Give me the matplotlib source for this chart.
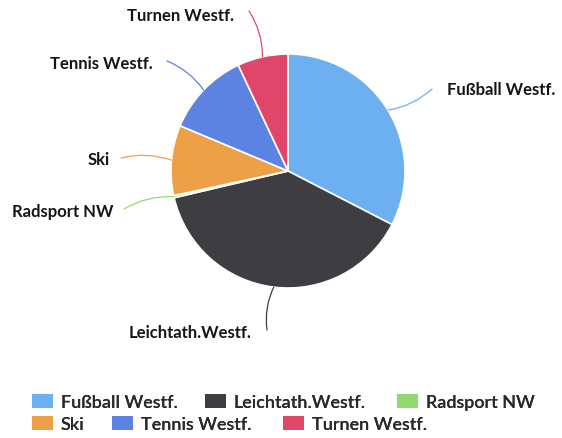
import numpy as np
import matplotlib
matplotlib.use("Agg")
import matplotlib.pyplot as plt
from matplotlib.patches import Patch

labels = ['Fußball Westf.', 'Leichtath.Westf.', 'Radsport NW', 'Ski', 'Tennis Westf.', 'Turnen Westf.']
shares = [32.6, 38.8, 0.3, 9.7, 11.7, 7.0]
colors = ['#6cb0f2', '#3d3d42', '#94d872', '#eea046', '#5c83e2', '#e0466a']

plt.rcParams['font.family'] = ['Lato', 'DejaVu Sans']

W, H = 562, 439
fig = plt.figure(figsize=(W / 100, H / 100), dpi=100)
fig.patch.set_facecolor('white')

# pie centre and radius in pixels (from the top left)
cx, cy, r = 288, 172, 117
ax = fig.add_axes([(cx - r) / W, (H - cy - r) / H, 2 * r / W, 2 * r / H])

wedges, _ = ax.pie(shares, colors=colors, startangle=90, counterclock=False,
                   wedgeprops=dict(edgecolor='white', linewidth=1.2))
ax.set_xlim(-1, 1)
ax.set_ylim(-1, 1)
ax.set_aspect('equal')
ax.axis('off')


def px(x, y):
    return (x - cx) / r, (cy - y) / r


# label text anchor (right/left edge) and connector end, in pixels
label_pos = {
    'Fußball Westf.': ((447, 90), (432, 90), 'left'),
    'Leichtath.Westf.': ((252, 333), (267, 331), 'right'),
    'Radsport NW': ((113, 212), (124, 210), 'right'),
    'Ski': ((110, 160), (121, 159), 'right'),
    'Tennis Westf.': ((153, 64), (167, 62), 'right'),
    'Turnen Westf.': ((234, 16), (249, 12), 'right'),
}

for w, lab, col in zip(wedges, labels, colors):
    mid = np.deg2rad((w.theta1 + w.theta2) / 2)
    start = (1.0 * np.cos(mid), 1.0 * np.sin(mid))
    (tx, ty), (ex, ey), ha = label_pos[lab]
    ax.annotate('', xy=start, xytext=px(ex, ey),
                arrowprops=dict(arrowstyle='-', color=col, lw=0.9,
                                shrinkA=0, shrinkB=0,
                                connectionstyle='arc3,rad=-0.15'),
                annotation_clip=False)
    ax.text(*px(tx, ty), lab, ha=ha, va='center', fontsize=12,
            fontweight='bold', color='#151515', clip_on=False)

# legend: one entry per item, placed where the reference flows them
legend_xy = [(32, 403), (205, 403), (397, 403), (32, 425), (112, 425), (283, 425)]
for c, lab, (lx, ly) in zip(colors, labels, legend_xy):
    leg = fig.legend([Patch(facecolor=c, edgecolor='none')], [lab],
                     loc='center left', bbox_to_anchor=(lx / W, 1 - ly / H),
                     frameon=False, handlelength=1.15, handleheight=0.8,
                     handletextpad=0.45, borderaxespad=0, borderpad=0,
                     labelcolor='#2a2a2a', prop=dict(size=13, weight='semibold'))
    fig.add_artist(leg)

fig.savefig('out.png', dpi=100, facecolor='white')
